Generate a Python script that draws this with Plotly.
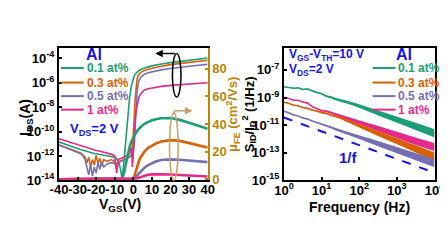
import numpy as np
import plotly.graph_objects as go

W, H = 448, 252
FONT = "Liberation Sans"
C_G, C_O, C_P, C_K = "#1B9E77", "#D95F02", "#7570B3", "#E7298A"
GOLD = "#B8860B"
TAN = "#C4A062"
BLUE = "#1414E6"

# ---------------- left panel data ----------------
vgs = [-40, -38, -36, -34, -32, -30, -28, -26, -25, -24, -23, -22, -21, -20, -19, -18, -17, -16,
       -14, -12, -10, -9, -8, -7, -6, -5, -4, -3, -2, -1, -0.5, 0, 0.5, 1, 1.5, 2, 2.5, 3,
       4, 5, 6, 8, 10, 12, 15, 20, 25, 30, 35, 40]

log_ids_01 = [-10.85, -10.97, -11.08, -11.2, -11.3, -11.4, -11.5, -11.6, -11.65, -11.7, -11.72, -11.75,
              -11.8, -11.82, -11.85, -11.87, -11.9, -11.92, -11.97, -12.02, -12.1, -12.2, -12.45, -13.0,
              -13.9, -12.4, -10.6, -8.7, -7.2, -6.2, -5.9, -5.65, -5.45, -5.3, -5.2, -5.12, -5.05, -5.0,
              -4.92, -4.85, -4.8, -4.7, -4.62, -4.55, -4.47, -4.35, -4.25, -4.15, -4.05, -3.97]
log_ids_03 = [-11.1, -11.2, -11.3, -11.42, -11.55, -11.65, -11.8, -12.1, -12.55, -12.1, -12.85, -12.3,
              -12.75, -11.95, -12.6, -12.2, -12.8, -12.3, -12.45, -12.3, -12.45, -12.7, -12.5, -12.4,
              -12.35, -12.3, -12.25, -12.15, -12.05, -11.9, -11.5, -10.5, -8.8, -7.3, -6.4, -5.7, -5.45,
              -5.3, -5.15, -5.07, -5.0, -4.9, -4.82, -4.75, -4.65, -4.52, -4.42, -4.32, -4.24, -4.16]
log_ids_05 = [-11.1, -11.22, -11.33, -11.45, -11.58, -11.7, -11.85, -12.25, -12.9, -13.55, -12.7, -13.65,
              -12.9, -13.4, -12.55, -13.1, -12.5, -12.9, -12.65, -12.55, -12.6, -12.95, -12.6, -12.45,
              -12.4, -12.35, -12.3, -12.2, -12.1, -12.0, -11.9, -11.6, -11.0, -9.6, -7.9, -6.8, -6.2,
              -5.85, -5.55, -5.4, -5.3, -5.18, -5.1, -5.03, -4.95, -4.83, -4.73, -4.64, -4.57, -4.5]
log_ids_1 = [-10.6, -10.7, -10.8, -10.9, -11.0, -11.1, -11.2, -11.3, -11.35, -11.4, -11.43, -11.47,
             -11.5, -11.55, -11.58, -11.62, -11.65, -11.7, -11.78, -11.85, -12.0, -13.4, -12.3, -12.2,
             -12.15, -12.1, -12.0, -11.9, -11.8, -11.3, -12.9, -11.8, -10.2, -9.0, -8.3, -7.8, -7.45,
             -7.2, -6.9, -6.7, -6.6, -6.5, -6.43, -6.38, -6.3, -6.22, -6.15, -6.09, -6.04, -6.0]

mu_01 = [0] * 24 + [0.5, 5, 12, 18, 23.5, 27.5, 29, 30.5, 32, 33, 34, 35, 35.8, 36.5, 38, 39.2, 40.2,
                    41.8, 42.8, 43.5, 44.2, 44.3, 43.0, 41.0, 38.8, 36.5]
mu_03 = [0] * 31 + [0.3, 2, 4.5, 7, 9.5, 11.5, 13.2, 16, 18.3, 20, 22.7, 24.5, 25.8, 27.3, 28.3, 27.8,
                    26.3, 24.7, 23.0]
mu_05 = [0] * 32 + [0.5, 1.2, 2, 2.8, 3.6, 4.4, 5.8, 7.2, 8.4, 10.3, 11.7, 12.8, 13.9, 14.4, 14.1, 13.6,
                    13.0, 12.4]
mu_1 = [0] * 32 + [0.1, 0.3, 0.5, 0.8, 1.0, 1.3, 1.8, 2.3, 2.7, 3.2, 3.5, 3.6, 3.6, 3.4, 3.0, 2.6, 2.3, 2.0]

vgs_ticks = [-40, -30, -20, -10, 0, 10, 20, 30, 40]
vgs_ticktext = ["-40", "-30", "-20", "-10", "0", "10", "20", "30", "40"]
ids_tick_exp = [-14, -12, -10, -8, -6, -4]
mu_ticks = [0, 20, 40, 60, 80]

# ---------------- right panel data ----------------
freq = [1, 1.33, 1.78, 2.37, 3.16, 4.22, 5.62, 7.5, 10, 13.3, 17.8, 23.7, 31.6, 42.2, 56.2, 75, 100,
        133, 178, 237, 316, 422, 562, 750, 1000, 1330, 1780, 2370, 3160, 4220, 5620, 7500, 10000]
log_sid_01 = [-8.22, -8.25, -8.33, -8.30, -8.42, -8.38, -8.52, -8.64, -8.72, -8.9, -8.98, -9.12, -9.2,
              -9.32, -9.4, -9.5, -9.63, -9.76, -9.88, -10.0, -10.12, -10.24, -10.35, -10.47, -10.58,
              -10.7, -10.82, -10.95, -11.07, -11.2, -11.33, -11.46, -11.6]
log_sid_03 = [-9.35, -9.42, -9.55, -9.60, -9.72, -9.78, -9.90, -9.98, -10.10, -10.15, -10.28, -10.35,
              -10.47, -10.62, -10.76, -10.90, -11.05, -11.18, -11.32, -11.45, -11.60, -11.74, -11.88,
              -12.02, -12.15, -12.30, -12.44, -12.58, -12.72, -12.86, -13.0, -13.14, -13.28]
log_sid_05 = [-10.0, -10.1, -10.26, -10.33, -10.48, -10.55, -10.7, -10.8, -10.93, -11.05, -11.15, -11.3,
              -11.4, -11.52, -11.65, -11.75, -11.88, -12.0, -12.1, -12.22, -12.35, -12.46, -12.58, -12.7,
              -12.8, -12.93, -13.05, -13.16, -13.28, -13.4, -13.5, -13.63, -13.75]
log_sid_1 = [-9.0, -9.06, -9.2, -9.2, -9.33, -9.4, -9.66, -9.8, -9.95, -9.98, -10.1, -10.2, -10.35,
             -10.42, -10.55, -10.65, -10.8, -10.9, -11.02, -11.13, -11.25, -11.35, -11.48, -11.6,
             -11.72, -11.83, -11.95, -12.06, -12.17, -12.28, -12.38, -12.5, -12.6]
noise_spread = [0.02, 0.02, 0.03, 0.03, 0.03, 0.04, 0.04, 0.05, 0.05, 0.06, 0.07, 0.08, 0.09, 0.10, 0.11,
                0.12, 0.13, 0.15, 0.16, 0.17, 0.18, 0.19, 0.20, 0.21, 0.22, 0.23, 0.24, 0.25, 0.26,
                0.27, 0.28, 0.29, 0.30]
ref_freq = [1, 10000]
log_ref = [-10.45, -14.45]
freq_ticks = [1, 10, 100, 1000, 10000]
sid_tick_exp = [-15, -13, -11, -9, -7]

labels = ["0.1 at%", "0.3 at%", "0.5 at%", "1 at%"]
colors = [C_G, C_O, C_P, C_K]


def px(x):
    return x / W


def py(y):
    return 1 - y / H


fig = go.Figure()

# left: Ids (log)
for ids, col in zip([log_ids_01, log_ids_03, log_ids_05, log_ids_1], colors):
    fig.add_trace(go.Scatter(x=vgs, y=10 ** np.array(ids, dtype=float), mode="lines",
                             line=dict(color=col, width=1.6), xaxis="x", yaxis="y", showlegend=False))
# left: mobility
for mu, col in zip([mu_01, mu_03, mu_05, mu_1], colors):
    fig.add_trace(go.Scatter(x=vgs, y=mu, mode="lines", line=dict(color=col, width=2.6),
                             xaxis="x", yaxis="y2", showlegend=False))

# right: noise spectra
for sid, col in zip([log_sid_01, log_sid_1, log_sid_03, log_sid_05], [C_G, C_K, C_O, C_P]):
    c = np.array(sid, dtype=float)
    s = np.array(noise_spread, dtype=float)
    fig.add_trace(go.Scatter(x=freq, y=10 ** (c + s), mode="lines", line=dict(width=0, color=col),
                             xaxis="x2", yaxis="y3", showlegend=False, hoverinfo="skip"))
    fig.add_trace(go.Scatter(x=freq, y=10 ** (c - s), mode="lines", line=dict(width=0, color=col),
                             fill="tonexty", fillcolor=col, opacity=0.9,
                             xaxis="x2", yaxis="y3", showlegend=False, hoverinfo="skip"))
    fig.add_trace(go.Scatter(x=freq, y=10 ** c, mode="lines", line=dict(color=col, width=1.5),
                             xaxis="x2", yaxis="y3", showlegend=False))
fig.add_trace(go.Scatter(x=ref_freq, y=10 ** np.array(log_ref), mode="lines",
                         line=dict(color=BLUE, width=2, dash="dash"), xaxis="x2", yaxis="y3",
                         showlegend=False))

tf = dict(family=FONT, size=13, color="black", weight="bold")
common = dict(showgrid=False, zeroline=False, showline=True, linecolor="black", linewidth=2,
              ticks="inside", ticklen=3, tickwidth=1.5, tickcolor="black", tickfont=tf, tickangle=0)
ydom = [py(178), py(41)]

fig.update_layout(
    width=W, height=H, margin=dict(l=0, r=0, t=0, b=0),
    paper_bgcolor="white", plot_bgcolor="white", showlegend=False,
    xaxis=dict(domain=[px(43), px(199)], range=[-40, 40], tickvals=vgs_ticks, ticktext=vgs_ticktext,
               anchor="y", mirror=True, ticklabelstandoff=-4, **common),
    yaxis=dict(domain=ydom, type="log", range=[-14, -3.13], anchor="x",
               tickvals=[10.0 ** e for e in ids_tick_exp],
               ticktext=["10<sup>%d</sup>" % e for e in ids_tick_exp], **common),
    yaxis2=dict(overlaying="y", side="right", anchor="x", range=[-0.8, 95.3], tickvals=mu_ticks,
                showgrid=False, zeroline=False, showline=True, linecolor=GOLD, linewidth=2,
                ticks="inside", ticklen=3, tickwidth=1.5, tickcolor=GOLD,
                tickfont=dict(family=FONT, size=13, color=GOLD, weight="bold")),
    xaxis2=dict(domain=[px(279), px(437)], type="log", range=[0, 4], anchor="y3",
                tickvals=freq_ticks, ticktext=["10<sup>%d</sup>" % i for i in range(5)],
                mirror=True, ticklabelstandoff=-3, **common),
    yaxis3=dict(domain=ydom, type="log", range=[-15, -5.39], anchor="x2",
                tickvals=[10.0 ** e for e in sid_tick_exp],
                ticktext=["10<sup>%d</sup>" % e for e in sid_tick_exp], mirror=True, **common),
)


def ann(x, y, text, color, size, xanchor="center", angle=0):
    return dict(x=px(x), y=py(y), xref="paper", yref="paper", text=text, showarrow=False,
                font=dict(family=FONT, size=size, color=color, weight="bold"),
                xanchor=xanchor, yanchor="middle", textangle=angle)


annotations = [
    ann(9, 113, "I<sub>DS</sub>(A)", "black", 14, angle=-90),
    ann(107, 203, "V<sub>GS</sub>(V)", "black", 14),
    ann(225, 110, "μ<sub>FE</sub> (cm<sup>2</sup>/Vs)", GOLD, 13, angle=-90),
    ann(242, 110, "S<sub>ID</sub>/I<sub>D</sub><sup>2</sup> (1/Hz)", "black", 13, angle=-90),
    ann(358, 206, "Frequency (Hz)", "black", 14),
    ann(80, 48, "Al", BLUE, 16),
    ann(80, 125, "V<sub>DS</sub>=2 V", BLUE, 13),
    ann(282, 49, "V<sub>GS</sub>-V<sub>TH</sub>=10 V", BLUE, 12, xanchor="left"),
    ann(282, 64, "V<sub>DS</sub>=2 V", BLUE, 12, xanchor="left"),
    ann(405, 48, "Al", BLUE, 16),
    ann(347, 154, "1/f", BLUE, 15),
]
shapes = []
leg_y = [62, 77, 91, 105]
for lab, col, yy in zip(labels, colors, leg_y):
    annotations.append(ann(70, yy, lab, col, 12, xanchor="left"))
    annotations.append(ann(397, yy, lab, col, 12, xanchor="left"))
    shapes.append(dict(type="line", xref="paper", yref="paper", x0=px(45), x1=px(69), y0=py(yy), y1=py(yy),
                       line=dict(color=col, width=2)))
    shapes.append(dict(type="line", xref="paper", yref="paper", x0=px(372), x1=px(396), y0=py(yy), y1=py(yy),
                       line=dict(color=col, width=2)))

# ellipses and arrows
shapes.append(dict(type="circle", xref="paper", yref="paper", x0=px(162), x1=px(171), y0=py(92), y1=py(47),
                   line=dict(color="black", width=1.5)))
shapes.append(dict(type="circle", xref="paper", yref="paper", x0=px(159), x1=px(168), y0=py(178), y1=py(108),
                   line=dict(color=TAN, width=1.5)))
shapes.append(dict(type="line", xref="paper", yref="paper", x0=px(164), x1=px(164), y0=py(110), y1=py(106),
                   line=dict(color=TAN, width=1.5)))
annotations.append(dict(x=px(144), y=py(47), xref="paper", yref="paper", text="", showarrow=True,
                        ax=21, ay=0, arrowhead=2, arrowsize=1, arrowwidth=1.5, arrowcolor="black"))
annotations.append(dict(x=px(183), y=py(106), xref="paper", yref="paper", text="", showarrow=True,
                        ax=-19, ay=0, arrowhead=2, arrowsize=1, arrowwidth=1.5, arrowcolor=TAN))

fig.update_layout(annotations=annotations, shapes=shapes)
fig.write_html("out.html")
